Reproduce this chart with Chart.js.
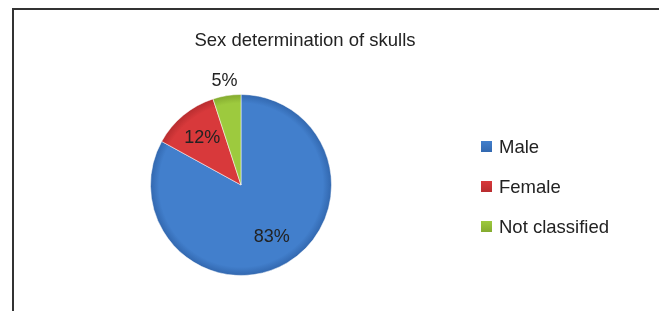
<!DOCTYPE html>
<html>
<head>
<meta charset="utf-8">
<script src="https://cdn.jsdelivr.net/npm/chart.js@4/dist/chart.umd.min.js"></script>
<style>
  html, body { margin: 0; padding: 0; background: #fff; overflow: hidden; }
  canvas { display: block; }
</style>
</head>
<body>
<canvas id="chart-sex" width="659" height="311"></canvas>
<script>
const chartTitle = "Sex determination of skulls";
const categories = ["Male", "Female", "Not classified"];
const shares = [83, 12, 5];
const colors = ["#427fcc", "#d8393b", "#9dca3e"];
const darkColors = ["#3166ad", "#b52c2e", "#82a82e"];

const FONT = "'Liberation Sans', Arial, sans-serif";

// slice fill with a soft radial shading
function sliceFill(ctx) {
  const i = ctx.dataIndex;
  const area = ctx.chart.chartArea;
  if (!area) return colors[i];
  const cx = (area.left + area.right) / 2, cy = (area.top + area.bottom) / 2;
  const r = Math.min(area.right - area.left, area.bottom - area.top) / 2;
  const g = ctx.chart.ctx.createRadialGradient(cx, cy, 0, cx, cy, r);
  g.addColorStop(0, colors[i]);
  g.addColorStop(0.9, colors[i]);
  g.addColorStop(1, darkColors[i]);
  return g;
}

// outer frame: only left and top edges are visible in the crop
const frame = {
  id: "frame",
  beforeDraw(chart) {
    const c = chart.ctx;
    c.save();
    c.strokeStyle = "#333";
    c.lineWidth = 2;
    c.beginPath();
    c.moveTo(13, 311);
    c.lineTo(13, 9);
    c.lineTo(659, 9);
    c.stroke();
    c.restore();
  }
};

const extras = {
  id: "extras",
  afterDraw(chart) {
    const c = chart.ctx;
    c.save();
    // title
    c.fillStyle = "#222";
    c.font = "18.5px " + FONT;
    c.textAlign = "center";
    c.textBaseline = "middle";
    c.fillText(chartTitle, 305, 41);

    // percentage labels
    c.font = "18px " + FONT;
    const meta = chart.getDatasetMeta(0);
    meta.data.forEach((arc, i) => {
      const mid = (arc.startAngle + arc.endAngle) / 2;
      const f = shares[i] < 8 ? 1.16 : 0.67;
      const x = arc.x + Math.cos(mid) * arc.outerRadius * f;
      const y = arc.y + Math.sin(mid) * arc.outerRadius * f;
      c.fillStyle = "#222";
      c.fillText(shares[i] + "%", x, y);
    });

    // legend
    c.textAlign = "left";
    c.font = "18.5px " + FONT;
    categories.forEach((name, i) => {
      const y = 147 + i * 40;
      const g = c.createLinearGradient(0, y - 6, 0, y + 6);
      g.addColorStop(0, colors[i]);
      g.addColorStop(1, darkColors[i]);
      c.fillStyle = g;
      c.fillRect(481, y - 6, 11, 11);
      c.fillStyle = "#222";
      c.fillText(name, 499, y + 1);
    });
    c.restore();
  }
};

new Chart(document.getElementById("chart-sex"), {
  type: "pie",
  data: {
    labels: categories,
    datasets: [{
      data: shares,
      backgroundColor: sliceFill,
      borderColor: "rgba(255,255,255,0.5)",
      borderWidth: 1
    }]
  },
  options: {
    responsive: false,
    animation: false,
    layout: { padding: { left: 150, right: 327, top: 94, bottom: 35 } },
    plugins: {
      legend: { display: false },
      title: { display: false },
      tooltip: { enabled: false }
    }
  },
  plugins: [frame, extras]
});
</script>
</body>
</html>
